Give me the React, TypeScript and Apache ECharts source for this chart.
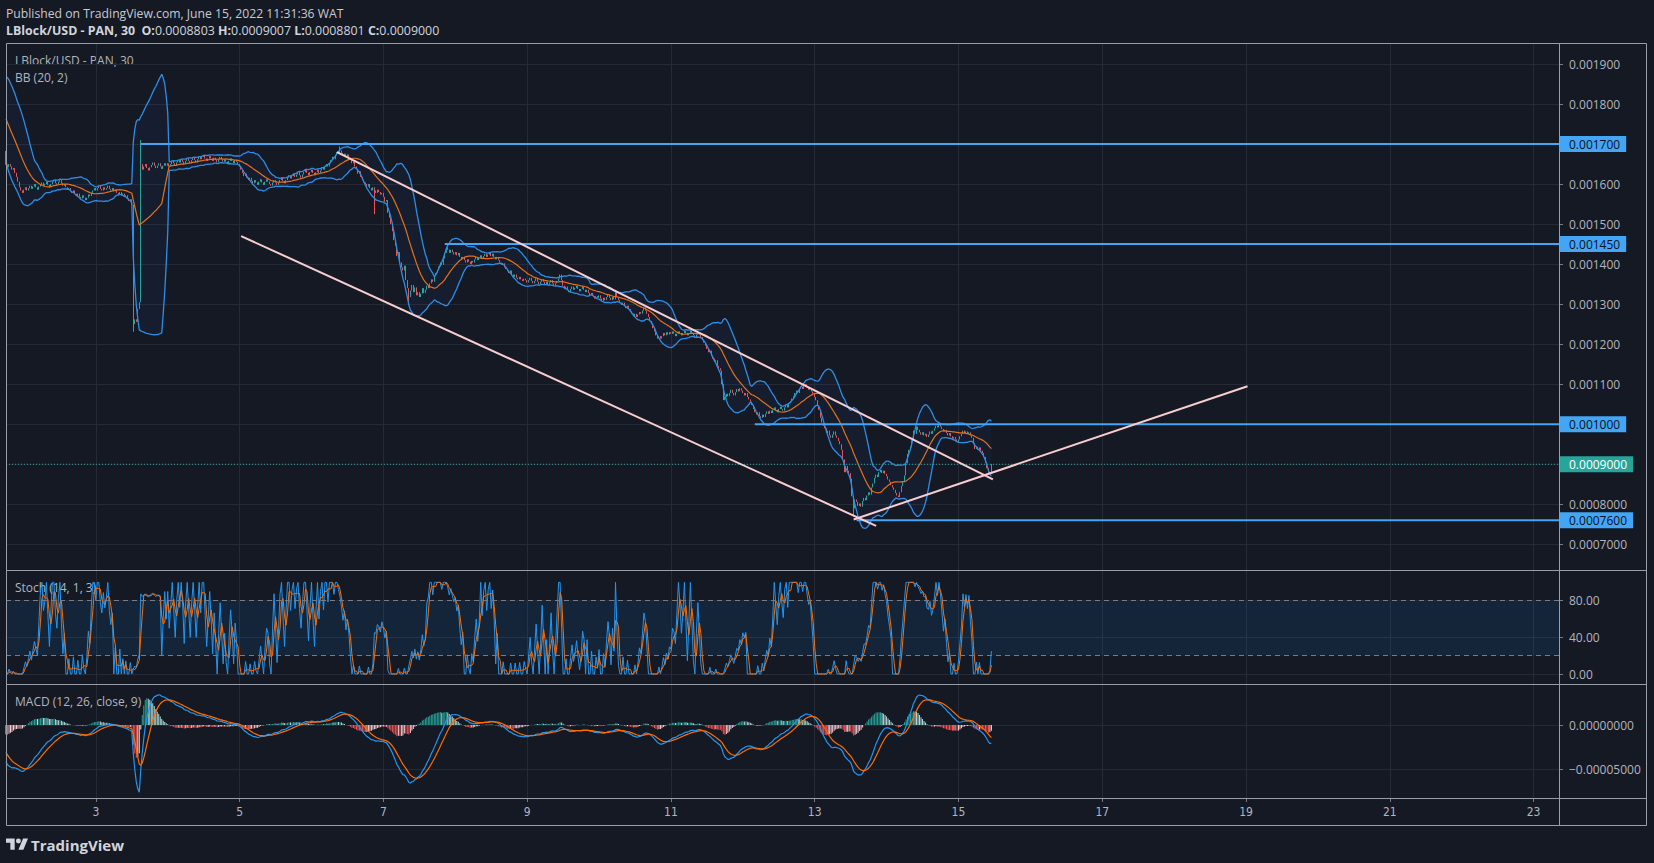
import React, { useEffect, useRef } from "react";
import * as echarts from "echarts";

// ---------- 30-minute closes, in millionths of USD (1650 = 0.001650) ----------
// June 1 (first 36 bars lie before the visible window)
const jun01 = [1852,1858,1849,1861,1855,1847,1853,1860,1856,1850,1844,1851,1848,1842,1846,1839,1843,
  1835,1826,1830,1818,1810,1802,1806,1792,1781,1775,1768,1755,1749,1738,1726,1719,1705,1694,1683,
  1648,1642,1650,1644,1636,1640,1628,1618,1606,1592,1584,1578];
const jun02 = [1586,1592,1584,1590,1596,1588,1594,1600,1592,1586,1594,1598,
  1604,1596,1600,1606,1598,1592,1600,1606,1610,1602,1598,1606,
  1610,1602,1596,1600,1592,1586,1590,1582,1578,1584,1576,1570,
  1576,1568,1564,1572,1566,1560,1566,1574,1570,1578,1584,1590];
const jun03 = [1584,1590,1596,1588,1584,1592,1586,1590,1596,1588,1584,1590,
  1582,1586,1578,1574,1580,1572,1576,1568,1572,1564,1558,1562,
  1548,1250,1262,1256,1288,1305,1650,1636,
  1644,1650,1640,1634,1642,1648,1654,1646,1640,1646,1652,1644,1638,1646,1652,1646];
const jun04 = [1652,1644,1650,1658,1652,1646,1654,1660,1654,1662,1656,1650,
  1658,1664,1658,1652,1660,1666,1660,1654,1662,1668,1662,1668,
  1672,1664,1658,1664,1670,1664,1658,1666,1660,1654,1662,1668,
  1662,1656,1662,1656,1650,1658,1664,1658,1652,1660,1656,1650];
const jun05 = [1644,1636,1628,1620,1626,1616,1610,1616,1608,1602,1610,1604,
  1598,1606,1612,1604,1598,1606,1612,1606,1600,1596,1604,1610,
  1604,1598,1604,1610,1616,1608,1602,1610,1616,1622,1614,1620,
  1626,1618,1624,1630,1622,1616,1624,1630,1636,1628,1622,1630];
const jun06 = [1636,1628,1622,1630,1636,1628,1634,1642,1636,1644,1650,1644,
  1652,1660,1668,1662,1672,1680,1676,1684,1678,1670,1676,1668,
  1674,1666,1660,1652,1656,1644,1638,1626,1632,1618,1610,1604,
  1600,1594,1600,1590,1584,1592,1584,1578,1586,1580,1574,1578];
const jun07 = [1568,1556,1560,1528,1516,1500,1482,1460,1446,1420,1430,1404,
  1392,1384,1396,1360,1340,1318,1334,1348,1330,1342,1322,1330,
  1318,1326,1340,1328,1336,1346,1340,1352,1362,1356,1370,1378,
  1386,1394,1404,1398,1414,1428,1442,1436,1428,1436,1430,1424];
const jun08 = [1430,1422,1428,1418,1412,1418,1410,1404,1412,1406,1400,1408,
  1404,1412,1418,1410,1416,1422,1414,1420,1426,1418,1424,1428,
  1420,1426,1418,1412,1418,1410,1404,1398,1402,1392,1388,1382,
  1378,1384,1374,1368,1374,1366,1362,1368,1362,1358,1364,1360];
const jun09 = [1354,1360,1366,1358,1352,1358,1364,1356,1350,1356,1362,1356,
  1350,1356,1348,1354,1360,1352,1346,1352,1358,1364,1374,1360,
  1346,1338,1344,1336,1330,1338,1344,1336,1340,1346,1338,1332,
  1338,1344,1336,1330,1336,1328,1322,1328,1320,1314,1320,1316];
const jun10 = [1322,1314,1308,1316,1310,1318,1324,1316,1310,1318,1312,1330,
  1318,1310,1304,1298,1304,1296,1290,1296,1288,1282,1276,1270,
  1276,1268,1274,1280,1276,1284,1292,1284,1276,1268,1258,1250,
  1240,1232,1222,1214,1220,1214,1220,1228,1222,1230,1224,1230];
const jun11 = [1226,1232,1226,1220,1226,1232,1228,1222,1228,1234,1228,1222,
  1228,1234,1228,1222,1216,1224,1230,1224,1218,1210,1204,1196,
  1188,1180,1184,1170,1164,1156,1160,1146,1140,1134,1100,1060,
  1068,1076,1070,1078,1086,1078,1072,1080,1088,1082,1090,1084];
const jun12 = [1078,1072,1078,1068,1062,1056,1048,1038,1030,1024,1030,1020,
  1016,1024,1018,1026,1032,1026,1034,1028,1036,1042,1036,1030,
  1038,1044,1038,1034,1042,1048,1042,1052,1058,1064,1070,1078,
  1084,1078,1088,1094,1088,1096,1100,1092,1086,1090,1082,1076];
const jun13 = [1068,1060,1046,1036,1016,1004,996,990,978,984,972,966,
  974,982,972,966,958,950,936,912,880,896,884,878,
  864,820,790,812,806,796,802,794,808,816,810,822,
  830,824,842,852,866,874,868,880,886,878,884,876];
const jun14 = [870,862,856,848,842,836,828,822,818,830,846,858,
  872,902,926,936,944,960,984,976,994,986,980,974,
  980,972,976,968,974,982,976,984,990,996,992,998,
  994,988,982,986,978,972,978,970,964,968,962,956];
const jun15 = [962,970,976,984,978,982,976,980,972,966,952,
  938,944,936,942,934,928,918,904,890,876,880.3,900];
const dailyCloses = [jun01, jun02, jun03, jun04, jun05, jun06, jun07, jun08, jun09, jun10, jun11, jun12, jun13, jun14, jun15];

// long wicks: [day, half-hour of day, "H"|"L", price in millionths]
const wickExtremes: [number, number, string, number][] = [
  [3, 25, "L", 1231], [3, 30, "H", 1710], [6, 19, "H", 1694], [6, 42, "L", 1525],
  [7, 17, "L", 1298], [13, 26, "L", 769], [15, 22, "H", 900.7], [15, 22, "L", 880.1],
];

// horizontal levels
const levelPrices = [0.0017, 0.00145, 0.001, 0.00076];
const levelStartDays = [3.62, 7.86, 12.17, 13.58];
const levelLabels = ["0.001700", "0.001450", "0.001000", "0.0007600"];
const lastPrice = 0.0009;
const lastPriceLabel = "0.0009000";
// trend lines: [day, price in millionths]
const trendFrom = [[6.36, 1680], [5.03, 1470], [13.54, 762]];
const trendTo = [[15.48, 862], [13.86, 746], [19.02, 1095]];

// ticks
const priceTicks = [0.0007, 0.0008, 0.0009, 0.001, 0.0011, 0.0012, 0.0013, 0.0014, 0.0015, 0.0016, 0.0017, 0.0018, 0.0019];
const stochTicks = [0, 40, 80];
const macdTicks = [-0.00005, 0];
const dayTicks = [3, 5, 7, 9, 11, 13, 15, 17, 19, 21, 23];

const FIRST_DAY = 1;
const VIEW_START_DAY = 1.75;
const VIEW_END_DAY = 23.35;
const BARS_PER_DAY = 48;

const FONT = "'Open Sans', 'Noto Sans', Roboto, sans-serif";
const NARROW = "'Liberation Sans Narrow', 'DejaVu Sans Condensed', 'Roboto Condensed', 'Open Sans', sans-serif";
const BG = "#151924";
const GRID = "#252a36";
const FRAME = "#9a9da6";
const AXIS_TEXT = "#b2b5be";
const UP = "#26a69a";
const DOWN = "#ef5350";
const BAND = "#2e8de6";
const BASIS = "#e5711a";
const LEVEL = "#42a5f5";
const TREND = "#f8cdd0";
const K_COLOR = "#2196f3";
const D_COLOR = "#ff6d00";

function ema(src: number[], n: number) {
  const k = 2 / (n + 1);
  const out: number[] = [];
  let prev = src[0];
  src.forEach((v, i) => { prev = i === 0 ? v : v * k + prev * (1 - k); out.push(prev); });
  return out;
}

function buildData() {
  const closes = dailyCloses.flat().map((v) => v * 1e-6);
  const opens = closes.map((c, i) => (i === 0 ? c : closes[i - 1]));
  const highs = closes.map((c, i) => Math.max(c, opens[i]));
  const lows = closes.map((c, i) => Math.min(c, opens[i]));
  wickExtremes.forEach(([d, h, t, p]) => {
    const i = (d - FIRST_DAY) * BARS_PER_DAY + h;
    if (t === "H") highs[i] = Math.max(highs[i], p * 1e-6);
    else lows[i] = Math.min(lows[i], p * 1e-6);
  });
  const n = closes.length;
  const basis: (number | null)[] = [], upper: (number | null)[] = [], lower: (number | null)[] = [];
  for (let i = 0; i < n; i++) {
    if (i < 19) { basis.push(null); upper.push(null); lower.push(null); continue; }
    const w = closes.slice(i - 19, i + 1);
    const m = w.reduce((a, b) => a + b, 0) / 20;
    const sd = Math.sqrt(w.reduce((a, b) => a + (b - m) * (b - m), 0) / 20);
    basis.push(m); upper.push(m + 2 * sd); lower.push(m - 2 * sd);
  }
  const kArr: (number | null)[] = [];
  for (let i = 0; i < n; i++) {
    if (i < 13) { kArr.push(null); continue; }
    const hh = Math.max(...highs.slice(i - 13, i + 1));
    const ll = Math.min(...lows.slice(i - 13, i + 1));
    kArr.push(hh === ll ? 50 : (100 * (closes[i] - ll)) / (hh - ll));
  }
  const dArr = kArr.map((v, i) => (i < 15 ? null : ((kArr[i] as number) + (kArr[i - 1] as number) + (kArr[i - 2] as number)) / 3));
  const e12 = ema(closes, 12), e26 = ema(closes, 26);
  const macd = closes.map((_, i) => e12[i] - e26[i]);
  const signal = ema(macd, 9);
  const hist = macd.map((m, i) => m - signal[i]);
  const skip = (VIEW_START_DAY - FIRST_DAY) * BARS_PER_DAY;
  const cut = <T,>(a: T[]) => a.slice(skip);
  return {
    candles: cut(closes.map((c, i) => [opens[i], c, lows[i], highs[i]])),
    basis: cut(basis), upper: cut(upper), lower: cut(lower),
    diff: cut(upper.map((u, i) => (u == null ? null : u - (lower[i] as number)))),
    k: cut(kArr), d: cut(dArr), macd: cut(macd), signal: cut(signal), hist: cut(hist),
  };
}

const idxOfDay = (d: number) => Math.round((d - VIEW_START_DAY) * BARS_PER_DAY);
const dayAt = (i: number) => VIEW_START_DAY + i / BARS_PER_DAY;
const isDayTick = (i: number) => dayTicks.some((t) => Math.abs(t - dayAt(i)) < 1e-6);

export default function App() {
  const ref = useRef<HTMLDivElement>(null);
  useEffect(() => {
    if (!ref.current) return;
    echarts.graphic.registerShape(
      "tvlogo",
      echarts.graphic.extendPath("M14 22H7V11H0V4h14v18zM28 22h-8l7.5-18h8L28 22zM24 8a4 4 0 1 1-8 0a4 4 0 1 1 8 0z", {}) as any
    );
    const chart = echarts.init(ref.current, null, { renderer: "svg" });
    const D = buildData();
    const N = Math.round((VIEW_END_DAY - VIEW_START_DAY) * BARS_PER_DAY) + 1;
    const cats = Array.from({ length: N }, (_, i) => String(i));
    const lastIdx = N - 1;

    const grids = [
      { left: 6, top: 43, width: 1553, height: 527 },
      { left: 6, top: 570, width: 1553, height: 114 },
      { left: 6, top: 684, width: 1553, height: 114 },
    ];
    const xAxes = [0, 1, 2].map((g) => ({
      type: "category",
      gridIndex: g,
      data: cats,
      boundaryGap: false,
      position: "bottom",
      axisLine: { show: false, onZero: false },
      axisTick: g === 2 ? { show: true, interval: (i: number) => isDayTick(i), length: 4, lineStyle: { color: "#787b86" } } : { show: false },
      axisLabel: g === 2
        ? { show: true, interval: (i: number) => isDayTick(i), formatter: (_v: string, i: number) => String(Math.round(dayAt(i))), color: AXIS_TEXT, fontSize: 12, fontFamily: NARROW, margin: 8 }
        : { show: false },
      splitLine: { show: true, interval: (i: number) => isDayTick(i), lineStyle: { color: GRID, width: 1 } },
    }));
    const yBase = (g: number, min: number, max: number, ticks: number[], fmt: (v: number) => string) => ({
      type: "value",
      gridIndex: g,
      position: "right",
      min, max,
      axisLine: { show: false, onZero: false },
      axisTick: { show: true, customValues: ticks, length: 4, lineStyle: { color: "#787b86" } },
      axisLabel: { show: true, customValues: ticks, formatter: fmt, color: AXIS_TEXT, fontSize: 12, fontFamily: FONT, margin: 10 },
      splitLine: { show: true, lineStyle: { color: GRID, width: 1 } },
    });
    const yAxes = [
      yBase(0, 0.0006358, 0.0019525, priceTicks, (v) => (v >= 0.00099999 ? v.toFixed(6) : v.toFixed(7))),
      yBase(1, -10.9, 113.5, stochTicks, (v) => v.toFixed(2)),
      yBase(2, -0.0000824, 0.0000463, macdTicks, (v) => (Math.abs(v) < 1e-12 ? "0.00000000" : (v < 0 ? "\u2212" : "") + Math.abs(v).toFixed(8))),
    ];

    const line = (data: any[], color: string, extra: any = {}) => ({
      type: "line", xAxisIndex: 0, yAxisIndex: 0, data, symbol: "none", showSymbol: false, silent: true,
      lineStyle: { color, width: 1 }, ...extra,
    });

    const series: any[] = [
      line(D.lower, BAND, { stack: "bb", lineStyle: { opacity: 0 } }),
      line(D.diff, BAND, { stack: "bb", lineStyle: { opacity: 0 }, areaStyle: { color: "rgba(41,121,255,0.07)" } }),
      line(D.upper, BAND, { lineStyle: { color: BAND, width: 1.3 } }),
      line(D.lower, BAND, { lineStyle: { color: BAND, width: 1.3 } }),
      line(D.basis, BASIS, { lineStyle: { color: BASIS, width: 1.2 } }),
      {
        type: "candlestick", xAxisIndex: 0, yAxisIndex: 0, data: D.candles, barWidth: 1.2, large: false, silent: true,
        itemStyle: { color: UP, color0: DOWN, borderColor: UP, borderColor0: DOWN, borderWidth: 1 },
      },
    ];
    levelPrices.forEach((p, k) => {
      series.push(line([[idxOfDay(levelStartDays[k]), p], [lastIdx, p]], LEVEL, {
        lineStyle: { color: LEVEL, width: 2 },
        endLabel: {
          show: true, formatter: () => levelLabels[k], color: "#0c1220", backgroundColor: LEVEL,
          padding: [2, 6, 2, 9], distance: 1, fontSize: 12, fontFamily: FONT,
        },
      }));
    });
    series.push(line([[0, lastPrice], [lastIdx, lastPrice]], UP, {
      lineStyle: { color: UP, width: 1, type: [1, 2] },
      endLabel: {
        show: true, formatter: () => lastPriceLabel, color: "#ffffff", backgroundColor: UP,
        padding: [2, 6, 2, 9], distance: 1, fontSize: 12, fontFamily: FONT,
      },
    }));
    trendFrom.forEach((a, k) => {
      const b = trendTo[k];
      series.push(line([[idxOfDay(a[0]), a[1] * 1e-6], [idxOfDay(b[0]), b[1] * 1e-6]], TREND, { lineStyle: { color: TREND, width: 2 } }));
    });
    // Stochastic
    series.push({
      type: "line", xAxisIndex: 1, yAxisIndex: 1, data: D.k, symbol: "none", silent: true,
      lineStyle: { color: K_COLOR, width: 1 },
      markArea: { silent: true, itemStyle: { color: "rgba(33,150,243,0.1)" }, data: [[{ yAxis: 20 }, { yAxis: 80 }]] },
      markLine: {
        silent: true, symbol: "none", label: { show: false },
        lineStyle: { color: "#787b86", type: [5, 4], width: 1 }, data: [{ yAxis: 20 }, { yAxis: 80 }],
      },
    });
    series.push({ type: "line", xAxisIndex: 1, yAxisIndex: 1, data: D.d, symbol: "none", silent: true, lineStyle: { color: D_COLOR, width: 1 } });
    // MACD
    series.push({
      type: "bar", xAxisIndex: 2, yAxisIndex: 2, barWidth: 1, silent: true,
      data: D.hist.map((h, i) => {
        const prev = i === 0 ? h : D.hist[i - 1];
        const color = h >= 0 ? (h >= prev ? "#26a69a" : "#b2dfdb") : (h < prev ? "#ff5252" : "#ffcdd2");
        return { value: h, itemStyle: { color } };
      }),
    });
    series.push({ type: "line", xAxisIndex: 2, yAxisIndex: 2, data: D.macd, symbol: "none", silent: true, lineStyle: { color: K_COLOR, width: 1.2 } });
    series.push({ type: "line", xAxisIndex: 2, yAxisIndex: 2, data: D.signal, symbol: "none", silent: true, lineStyle: { color: D_COLOR, width: 1.2 } });

    const txt = (x: number, y: number, text: string, size: number, color: string, weight: any = "normal") => ({
      type: "text", x, y, silent: true,
      style: { text, fill: color, fontSize: size, fontFamily: FONT, fontWeight: weight, verticalAlign: "middle", textVerticalAlign: "middle" },
    });
    const frameLine = (x1: number, y1: number, x2: number, y2: number) => ({
      type: "line", silent: true, shape: { x1, y1, x2, y2 }, style: { stroke: FRAME, lineWidth: 1 }, z: 100,
    });
    const graphic: any[] = [
      { type: "rect", silent: true, shape: { x: 6.5, y: 43.5, width: 1640, height: 782 }, style: { fill: "none", stroke: FRAME, lineWidth: 1 }, z: 100 },
      frameLine(1559.5, 43, 1559.5, 826),
      frameLine(6, 570.5, 1647, 570.5),
      frameLine(6, 684.5, 1647, 684.5),
      frameLine(6, 798.5, 1647, 798.5),
      txt(6, 13, "Published on TradingView.com, June 15, 2022 11:31:36 WAT", 12.2, "#c8cad1"),
      {
        type: "text", x: 6, y: 30, silent: true,
        style: {
          text: "{b|LBlock/USD - PAN, 30}  {b|O:}{r|0.0008803} {b|H:}{r|0.0009007} {b|L:}{r|0.0008801} {b|C:}{r|0.0009000}",
          verticalAlign: "middle", textVerticalAlign: "middle", fontSize: 12.4, fontFamily: FONT, fill: "#d1d4dc",
          rich: {
            b: { fontWeight: "bold", fill: "#d1d4dc", color: "#d1d4dc", fontSize: 12.4, fontFamily: FONT },
            r: { fontWeight: "normal", fill: "#d1d4dc", color: "#d1d4dc", fontSize: 12.4, fontFamily: FONT },
          },
        },
      },
      txt(15, 60, "LBlock/USD - PAN, 30", 12, AXIS_TEXT),
      txt(15, 77, "BB (20, 2)", 12, AXIS_TEXT),
      txt(15, 587, "Stoch (14, 1, 3)", 12, AXIS_TEXT),
      txt(15, 701, "MACD (12, 26, close, 9)", 12, AXIS_TEXT),
      { type: "tvlogo", x: 6, y: 836, scaleX: 0.62, scaleY: 0.62, silent: true, style: { fill: "#d1d4dc" } },
      txt(31, 845, "TradingView", 15, "#d1d4dc", "bold"),
    ];

    chart.setOption({
      animation: false,
      backgroundColor: BG,
      textStyle: { fontFamily: FONT },
      grid: grids,
      xAxis: xAxes,
      yAxis: yAxes,
      series,
      graphic,
    } as any);
    return () => chart.dispose();
  }, []);
  return <div ref={ref} style={{ position: "fixed", left: 0, top: 0, width: 1654, height: 863, background: BG }} />;
}
